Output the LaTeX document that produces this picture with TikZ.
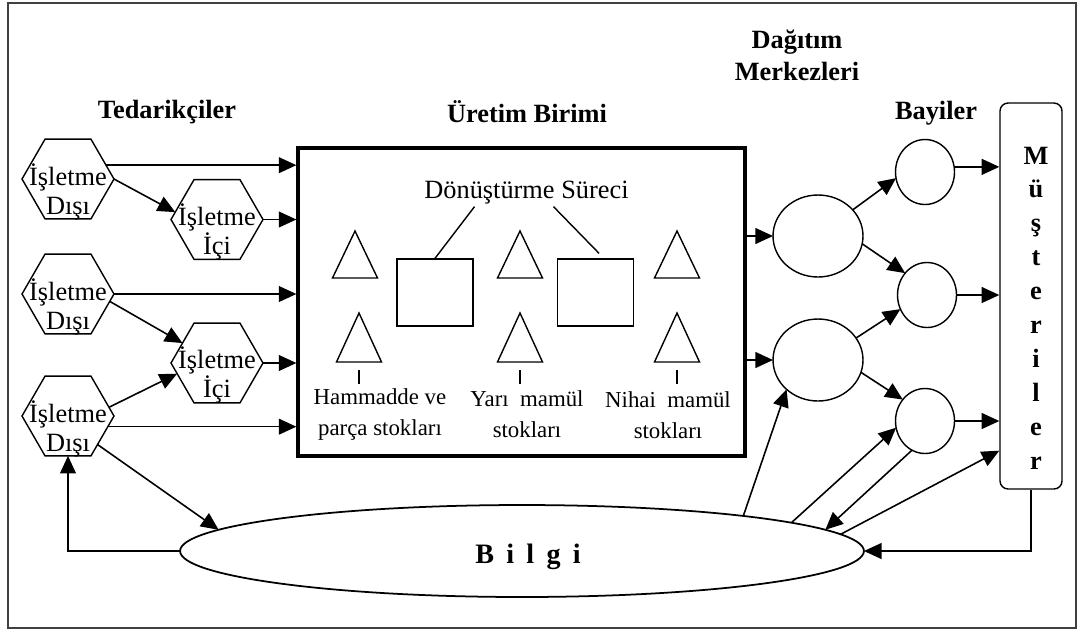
\documentclass[tikz,border=0pt]{standalone}
\usepackage{fontspec}
\setmainfont{Liberation Serif}
\usetikzlibrary{shapes.geometric,arrows.meta}

\tikzstyle{hexa} = [regular polygon, regular polygon sides=6, minimum size=1.84cm, inner sep=0pt, outer sep=0pt, draw=black, line width=0.8pt]
\tikzstyle{hextext} = [align=center, font=\fontsize{15}{16.5}\selectfont, inner sep=0pt]
\tikzstyle{merkez} = [ellipse, minimum width=1.8cm, minimum height=1.64cm, inner sep=0pt, outer sep=0pt, draw=black, line width=0.8pt]
\tikzstyle{bayi} = [ellipse, minimum width=1.18cm, minimum height=1.3cm, inner sep=0pt, outer sep=0pt, draw=black, line width=0.8pt]
\tikzstyle{surecbox} = [rectangle, minimum width=1.52cm, minimum height=1.34cm, draw=black, line width=0.8pt]
\tikzstyle{baslik} = [font=\bfseries\fontsize{15}{18.1}\selectfont, align=center, inner sep=0pt]
\tikzstyle{etiket} = [font=\fontsize{13}{17.6}\selectfont, align=center, inner sep=0pt]
\tikzstyle{arrow} = [line width=0.9pt, -{Triangle[length=10pt,width=9pt]}]

\begin{document}
\begin{tikzpicture}[x=0.02cm, y=-0.02cm]
\useasboundingbox (0,0) rectangle (1078,630);
\draw[line width=1.2pt, black!75] (8,3) rectangle (1076,628);

% tedarikciler
\node (tedarik) [baslik] at (167,112) {Tedarikçiler};
\node (dis1) [hexa] at (68,179) {};
\node (ici1) [hexa] at (217,219.5) {};
\node (dis2) [hexa] at (68,294) {};
\node (ici2) [hexa] at (217,363) {};
\node (dis3) [hexa] at (68,416) {};
\node (dis1t) [hextext] at ([yshift=-0.26cm]dis1.center) {İşletme\\Dışı};
\node (ici1t) [hextext] at ([yshift=-0.24cm]ici1.center) {İşletme\\İçi};
\node (dis2t) [hextext] at ([yshift=-0.26cm]dis2.center) {İşletme\\Dışı};
\node (ici2t) [hextext] at ([yshift=-0.24cm]ici2.center) {İşletme\\İçi};
\node (dis3t) [hextext] at ([yshift=-0.26cm]dis3.center) {İşletme\\Dışı};

% uretim birimi
\node (uretimb) [baslik] at (527,112) {Üretim Birimi};
\node (uretim) [rectangle, draw=black, line width=1.9pt, minimum width=8.94cm, minimum height=6.16cm] at (521.5,302) {};
\node (surec) [font=\fontsize{15}{18}\selectfont, inner sep=1pt] at (526.5,193) {Dönüştürme Süreci};
\node (donus1) [surecbox] at (435,292.5) {};
\node (donus2) [surecbox] at (595.5,292.5) {};
\draw[line width=0.8pt] ([xshift=-1.04cm]surec.south) -- (donus1.north);
\draw[line width=0.8pt] ([xshift=0.54cm]surec.south) -- ([xshift=0.07cm,yshift=0.1cm]donus2.north);
\foreach \x in {355,520,677}
  \draw[line width=0.8pt] (\x-22.5,278) -- (\x,231) -- (\x+22.5,278) -- cycle;
\foreach \x in {359,520,677}{
  \draw[line width=0.8pt] (\x-22.5,362) -- (\x,313) -- (\x+22.5,362) -- cycle;
  \draw[line width=0.8pt] (\x,370) -- (\x,384);
}
\node (hamlbl) [etiket] at (380,414.5) {Hammadde ve\\parça stokları};
\node (yarilbl) [etiket] at (527,414.5) {Yarı\ \ mamül\\stokları};
\node (nihlbl) [etiket] at (668,415.5) {Nihai\ \ mamül\\stokları};

% dagitim, bayiler, musteriler
\node (dagitim) [baslik] at (797,55) {Dağıtım\\Merkezleri};
\node (bayiler) [baslik] at (936,113) {Bayiler};
\node (dag1) [merkez] at (818,236) {};
\node (dag2) [merkez] at (818,360) {};
\node (bay1) [bayi] at (925,172) {};
\node (bay2) [bayi] at (927,295) {};
\node (bay3) [bayi] at (925,421) {};
\node (must) [rectangle, rounded corners=0.16cm, draw=black, line width=0.8pt, minimum width=1.24cm, minimum height=7.72cm] at (1031,296) {};
\node (mustt) [font=\bfseries\fontsize{15}{19.3}\selectfont, align=center, inner sep=0pt] at (1036,308) {M\\ü\\ş\\t\\e\\r\\i\\l\\e\\r};

% bilgi
\node (bilgi) [ellipse, draw=black, line width=1pt, inner sep=0pt, outer sep=0pt, minimum width=13.68cm, minimum height=1.84cm] at (522,551) {};
\node (bilgit) [font=\bfseries\fontsize{16}{18}\selectfont] at (528,557) {B\hspace{7pt}i\hspace{7pt}l\hspace{7pt}g\hspace{7pt}i};

% arrows
\draw [arrow] (dis1.20) -- (dis1.20 -| uretim.west);
\draw [arrow] (dis1.east) -- (ici1.170);
\draw [arrow] (ici1.east) -- (ici1.east -| uretim.west);
\draw [arrow] (dis2.east) -- (dis2.east -| uretim.west);
\draw [arrow] (dis2.-10) -- (ici2.150);
\draw [arrow] (ici2.east) -- (ici2.east -| uretim.west);
\draw [arrow] (dis3.12) -- (ici2.195);
\draw [arrow] (dis3.-15) -- (dis3.-15 -| uretim.west);
\draw [arrow] (dis3.-44) -- (bilgi.176.5);
\draw [arrow] (bilgi.west) -| (dis3.south);
\draw [arrow] (dag1.west -| uretim.east) -- (dag1.west);
\draw [arrow] (dag2.west -| uretim.east) -- (dag2.west);
\draw [arrow] (dag1.37) -- (bay1.192);
\draw [arrow] (dag1.-10) -- (bay2.135);
\draw [arrow] (dag2.30) -- (bay2.208);
\draw [arrow] (dag2.-16) -- (bay3.136);
\draw [arrow] (bay1.10) -- (bay1.10 -| must.west);
\draw [arrow] (bay2.east) -- (bay2.east -| must.west);
\draw [arrow] (bay3.east) -- (bay3.east -| must.west);
\draw [arrow] (bilgi.9) -- (dag2.223);
\draw [arrow] (bilgi.6.6) -- (bay3.193);
\draw [arrow] (bay3.246) -- (bilgi.4.8);
\draw [arrow] (bilgi.3.8) -- ([yshift=0.78cm]must.south west);
\draw [arrow] (must.south) |- (bilgi.east);
\end{tikzpicture}
\end{document}
